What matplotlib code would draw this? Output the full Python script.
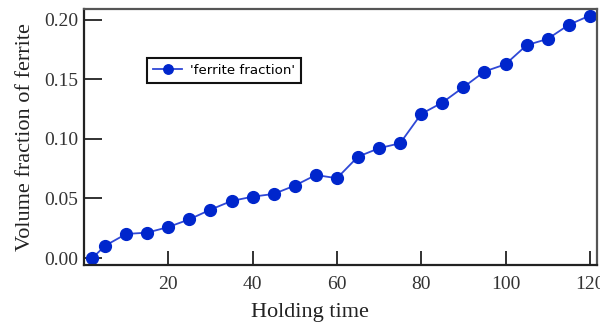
import matplotlib
matplotlib.use("Agg")
import matplotlib.pyplot as plt

holding_time = [2, 5, 10, 15, 20, 25, 30, 35, 40, 45, 50, 55, 60, 65, 70, 75,
                80, 85, 90, 95, 100, 105, 110, 115, 120]
ferrite_fraction = [0.000, 0.0103, 0.0202, 0.0213, 0.026, 0.0325, 0.0406, 0.0479,
                    0.0515, 0.0538, 0.0608, 0.0697, 0.067, 0.0851, 0.0922, 0.0964,
                    0.121, 0.1305, 0.1434, 0.1566, 0.1627, 0.1787, 0.184, 0.1958, 0.2036]
x_ticks = [20, 40, 60, 80, 100, 120]
y_ticks = [0.00, 0.05, 0.10, 0.15, 0.20]

fig = plt.figure(figsize=(6, 3.26), dpi=100)
ax = fig.add_axes([0.14, 0.187, 0.855, 0.785])
ax.plot(holding_time, ferrite_fraction, '-o', color='#2f48d6', markerfacecolor='#0026cc',
        markeredgecolor='#0026cc', markersize=8.5, linewidth=1.3, label="'ferrite fraction'")
ax.set_xlim(0, 121.7)
ax.set_ylim(-0.0059, 0.209)
ax.set_xticks(x_ticks)
ax.set_yticks(y_ticks)
ax.set_yticklabels([f"{v:.2f}" for v in y_ticks])
serif = 'Liberation Serif'
for lab in ax.get_xticklabels() + ax.get_yticklabels():
    lab.set_fontfamily(serif)
    lab.set_fontsize(14)
    lab.set_color('#333333')
ax.tick_params(axis='both', direction='in', length=10, width=1.3, color='#222222')
ax.tick_params(axis='y', length=13, pad=4)
ax.tick_params(axis='x', pad=8)
ax.set_xlabel('Holding time', fontfamily=serif, fontsize=16, color='#222222', labelpad=3)
ax.xaxis.set_label_coords(0.44, -0.15)
ax.set_ylabel('Volume fraction of ferrite', fontfamily=serif, fontsize=16, color='#222222', labelpad=7)
for side in ['left', 'bottom']:
    ax.spines[side].set_linewidth(1.6)
    ax.spines[side].set_color('#222222')
for side in ['top', 'right']:
    ax.spines[side].set_linewidth(1.6)
    ax.spines[side].set_color('#555555')
leg = ax.legend(loc='upper left', bbox_to_anchor=(0.123, 0.809), borderaxespad=0,
                frameon=True, fancybox=False, edgecolor='#111111',
                prop={'family': 'DejaVu Sans', 'size': 9.6}, markerscale=0.8,
                handlelength=2.2, handletextpad=0.6, borderpad=0.45, framealpha=1)
leg.get_frame().set_linewidth(1.5)
fig.savefig('out.png', dpi=100)
